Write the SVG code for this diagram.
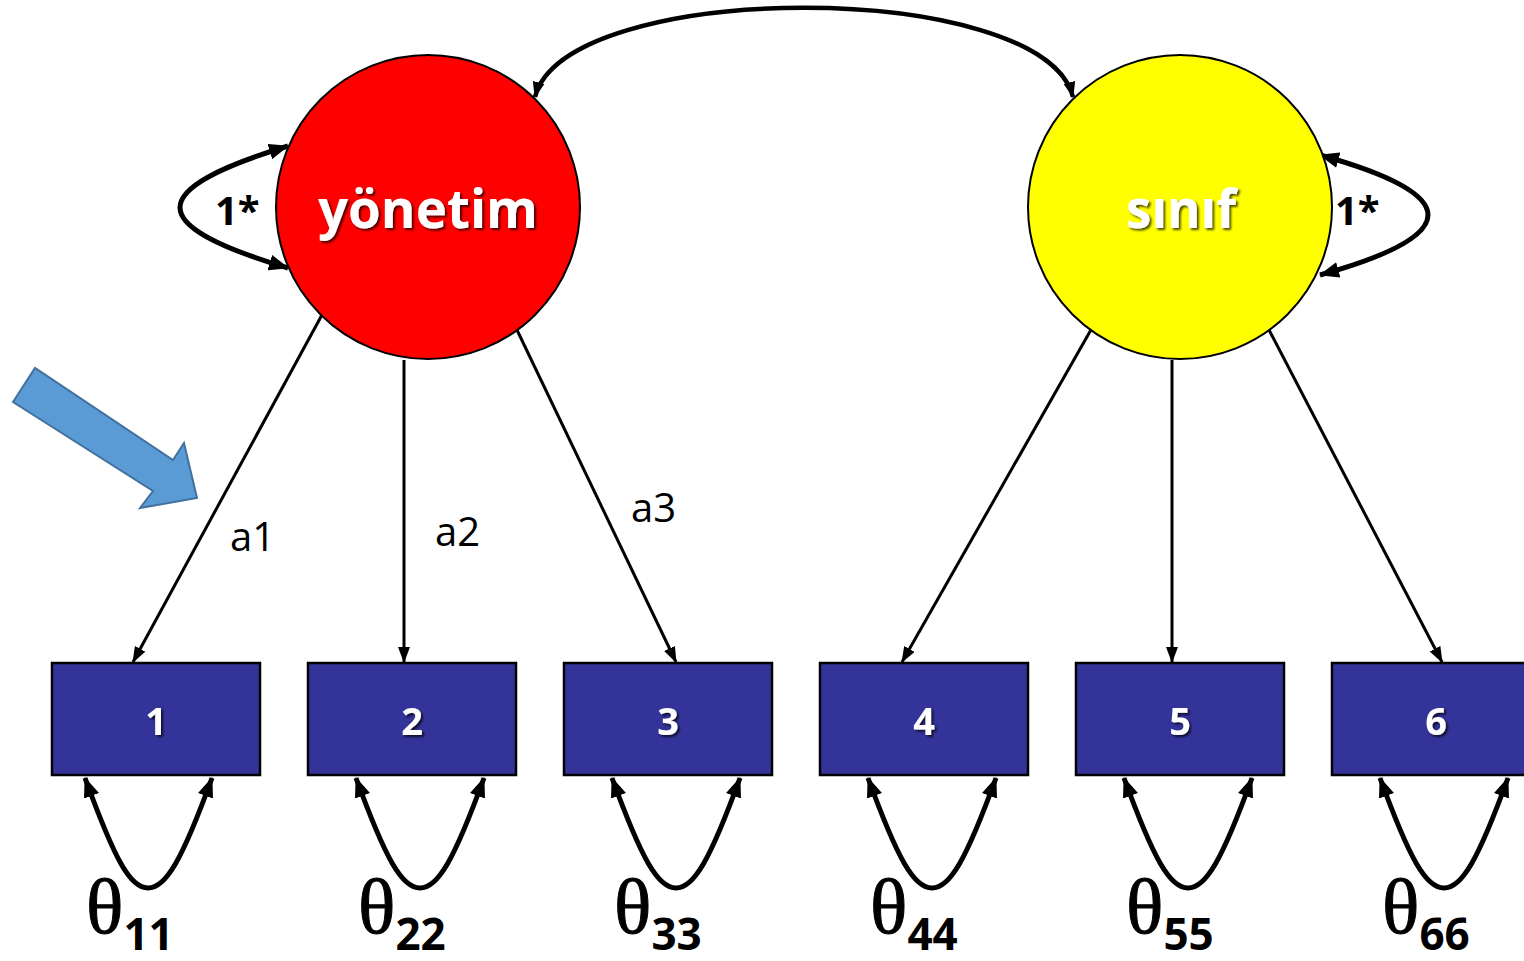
<svg xmlns="http://www.w3.org/2000/svg" width="1524" height="961" viewBox="0 0 1524 961">
<defs>
<marker id="ah" markerUnits="userSpaceOnUse" markerWidth="16" markerHeight="12" refX="15" refY="6" orient="auto-start-reverse" viewBox="0 0 16 12"><path d="M0,0 L16,6 L0,12 Z" fill="#000"/></marker>
<marker id="ahb" markerUnits="userSpaceOnUse" markerWidth="20" markerHeight="16" refX="19" refY="8" orient="auto-start-reverse" viewBox="0 0 20 16"><path d="M0,0 L20,8 L0,16 Z" fill="#000"/></marker>
<filter id="sh" x="-20%" y="-20%" width="140%" height="140%"><feDropShadow dx="2" dy="2" stdDeviation="1" flood-color="#000" flood-opacity="0.7"/></filter>
</defs>
<style>
.box{fill:#333399;stroke:#000;stroke-width:2.5}
.lt{font-family:"Open Sans","Liberation Sans",sans-serif;font-weight:bold;fill:#fff;text-anchor:middle;filter:url(#sh)}
.bt{font-family:"Open Sans","Liberation Sans",sans-serif;font-weight:bold;font-size:38px;fill:#fff;text-anchor:middle;filter:url(#sh)}
.ld{stroke:#000;stroke-width:3;fill:none;marker-end:url(#ah)}
.lp{stroke:#000;stroke-width:5;fill:none;marker-start:url(#ahb);marker-end:url(#ahb)}
.lab{font-family:"Open Sans","Liberation Sans",sans-serif;font-size:40px;fill:#000}
.one{font-family:"Open Sans","Liberation Sans",sans-serif;font-size:40px;font-weight:bold;fill:#000}
.th{font-family:"Liberation Serif",serif;font-size:78px;fill:#000;stroke:#000;stroke-width:1}
.sub{font-family:"Open Sans","Liberation Sans",sans-serif;font-size:44px;font-weight:bold;fill:#000}
</style>
<rect width="1524" height="961" fill="#fff"/>
<polygon points="13,402 35,368 173,460 184,443 197,498 140,508 153,491" fill="#5B9BD5" stroke="#41719C" stroke-width="2"/>
<g id="connectors">
<path d="M 535 97 C 565 -22, 1043 -22, 1073 97" stroke="#000" stroke-width="4.5" fill="none" marker-start="url(#ah)" marker-end="url(#ah)"/>
<path class="lp" d="M 288 146 C 144 190, 144 225, 288 268"/>
<path class="lp" d="M 1320 155 C 1464 195, 1464 235, 1320 275"/>
<line class="ld" x1="323" y1="313" x2="133" y2="662"/>
<line class="ld" x1="404" y1="360" x2="404" y2="662"/>
<line class="ld" x1="517" y1="330" x2="676" y2="662"/>
<line class="ld" x1="1092" y1="328" x2="902" y2="662"/>
<line class="ld" x1="1172" y1="360" x2="1172" y2="662"/>
<line class="ld" x1="1268" y1="328" x2="1442" y2="662"/>
<path class="lp" d="M 85 778 C 115 860, 130 888, 148 888 C 166 888, 182 860, 212 778"/>
<path class="lp" d="M 356 778 C 386 860, 402 888, 420 888 C 438 888, 454 860, 484 778"/>
<path class="lp" d="M 612 778 C 642 860, 658 888, 676 888 C 694 888, 710 860, 740 778"/>
<path class="lp" d="M 868 778 C 898 860, 914 888, 932 888 C 950 888, 966 860, 996 778"/>
<path class="lp" d="M 1124 778 C 1154 860, 1170 888, 1188 888 C 1206 888, 1222 860, 1252 778"/>
<path class="lp" d="M 1380 778 C 1410 860, 1426 888, 1444 888 C 1462 888, 1478 860, 1508 778"/>
<text class="lab" x="230" y="551">a1</text>
<text class="lab" x="435" y="546">a2</text>
<text class="lab" x="631" y="522">a3</text>
<text class="one" x="215" y="225">1*</text>
<text class="one" x="1335" y="225">1*</text>
</g>
<g id="yonetim"><circle cx="428" cy="207" r="152" fill="#FF0000" stroke="#000" stroke-width="2"/><text class="lt" x="428" y="228" font-size="54" textLength="220" lengthAdjust="spacingAndGlyphs">yönetim</text></g>
<g id="sinif"><circle cx="1180" cy="207" r="152" fill="#FFFF00" stroke="#000" stroke-width="2"/><text class="lt" x="1181" y="228" font-size="54" textLength="110" lengthAdjust="spacingAndGlyphs">sınıf</text></g>
<g id="v1"><rect class="box" x="52" y="663" width="208" height="112"/><text class="bt" x="156" y="735">1</text></g>
<g id="v2"><rect class="box" x="308" y="663" width="208" height="112"/><text class="bt" x="412" y="735">2</text></g>
<g id="v3"><rect class="box" x="564" y="663" width="208" height="112"/><text class="bt" x="668" y="735">3</text></g>
<g id="v4"><rect class="box" x="820" y="663" width="208" height="112"/><text class="bt" x="924" y="735">4</text></g>
<g id="v5"><rect class="box" x="1076" y="663" width="208" height="112"/><text class="bt" x="1180" y="735">5</text></g>
<g id="v6"><rect class="box" x="1332" y="663" width="208" height="112"/><text class="bt" x="1436" y="735">6</text></g>
<g id="errors">
<text x="86" y="933"><tspan class="th">θ</tspan><tspan class="sub" dy="17">11</tspan></text>
<text x="358" y="933"><tspan class="th">θ</tspan><tspan class="sub" dy="17">22</tspan></text>
<text x="614" y="933"><tspan class="th">θ</tspan><tspan class="sub" dy="17">33</tspan></text>
<text x="870" y="933"><tspan class="th">θ</tspan><tspan class="sub" dy="17">44</tspan></text>
<text x="1126" y="933"><tspan class="th">θ</tspan><tspan class="sub" dy="17">55</tspan></text>
<text x="1382" y="933"><tspan class="th">θ</tspan><tspan class="sub" dy="17">66</tspan></text>
</g>
</svg>
